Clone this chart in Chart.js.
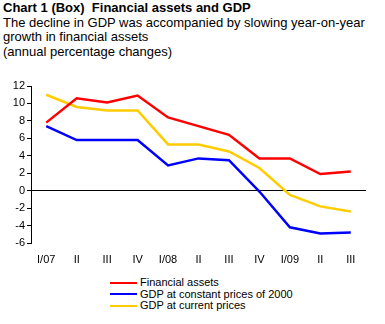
<!DOCTYPE html>
<html>
<head>
<meta charset="utf-8">
<script src="https://cdn.jsdelivr.net/npm/chart.js@4"></script>
<style>
  body { margin: 0; background: #fff; font-family: "Liberation Sans", Arial, sans-serif; color: #000; }
  #wrap { position: relative; width: 385px; height: 324px; overflow: hidden; }
  #head { position: absolute; left: 3px; top: 1px; font-size: 13px; line-height: 14.5px; }
  #box { position: absolute; left: 0; top: 76px; width: 385px; height: 194px; }
  #legend { position: absolute; left: 110px; top: 277px; font-size: 11px; line-height: 11.5px; }
  .row { display: flex; align-items: center; height: 11.5px; }
  .swatch { width: 27px; height: 2px; margin-right: 3px; }
</style>
</head>
<body>
<div id="wrap">
  <div id="head">
    <b>Chart 1 (Box)&nbsp; Financial assets and GDP</b><br>
    The decline in GDP was accompanied by slowing year-on-year<br>
    growth in financial assets<br>
    (annual percentage changes)
  </div>
  <div id="box"><canvas id="chart" width="385" height="194"></canvas></div>
  <div id="legend"></div>
</div>
<script>
// quarters, 2007 Q1 to 2009 Q3
const quarters = ['I/07', 'II', 'III', 'IV', 'I/08', 'II', 'III', 'IV', 'I/09', 'II', 'III'];

const financialAssets = [7.8, 10.6, 10.1, 10.9, 8.4, 7.4, 6.4, 3.7, 3.7, 1.9, 2.2];
const gdpConstant     = [7.4, 5.8, 5.8, 5.8, 2.9, 3.7, 3.5, -0.1, -4.2, -4.9, -4.8];
const gdpCurrent      = [11.0, 9.6, 9.2, 9.2, 5.3, 5.3, 4.5, 2.6, -0.5, -1.8, -2.4];

const yTicks = [-6, -4, -2, 0, 2, 4, 6, 8, 10, 12];

const series = [
    { label: 'Financial assets', data: financialAssets, color: '#ff0000' },
    { label: 'GDP at constant prices of 2000', data: gdpConstant, color: '#0000ff' },
    { label: 'GDP at current prices', data: gdpCurrent, color: '#ffcc00' }
];

const font = { family: '"Liberation Sans", Arial, sans-serif', size: 11 };

const ctx = document.getElementById('chart').getContext('2d');
new Chart(ctx, {
    type: 'line',
    data: {
        labels: quarters,
        datasets: series.map(s => ({
            label: s.label,
            data: s.data,
            borderColor: s.color,
            backgroundColor: s.color,
            borderWidth: 2.5,
            pointRadius: 0,
            tension: 0
        }))
    },
    options: {
        responsive: false,
        animation: false,
        layout: { padding: { top: 10, right: 19, left: 0, bottom: 0 } },
        plugins: { legend: { display: false }, tooltip: { enabled: false } },
        scales: {
            x: {
                offset: true,
                grid: { display: false, drawTicks: false },
                border: { display: false },
                ticks: { color: '#000', font: font, padding: 10, maxRotation: 0, autoSkip: false },
                afterFit: s => { s.height = 27; }
            },
            y: {
                min: -6,
                max: 12,
                afterBuildTicks: s => { s.ticks = yTicks.map(v => ({ value: v })); },
                grid: {
                    drawOnChartArea: true,
                    color: c => (c.tick && c.tick.value === 0 ? '#000' : 'rgba(0,0,0,0)'),
                    lineWidth: 1,
                    tickColor: '#000',
                    tickLength: 4
                },
                border: { display: true, color: '#000', width: 1 },
                ticks: { color: '#000', font: font, padding: 2, autoSkip: false },
                afterFit: s => { s.width = 31; }
            }
        }
    }
});

// vertical legend under the chart
const legend = document.getElementById('legend');
series.forEach(s => {
    const row = document.createElement('div');
    row.className = 'row';
    row.innerHTML = `<span class="swatch" style="background:${s.color}"></span>${s.label}`;
    legend.appendChild(row);
});
</script>
</body>
</html>
